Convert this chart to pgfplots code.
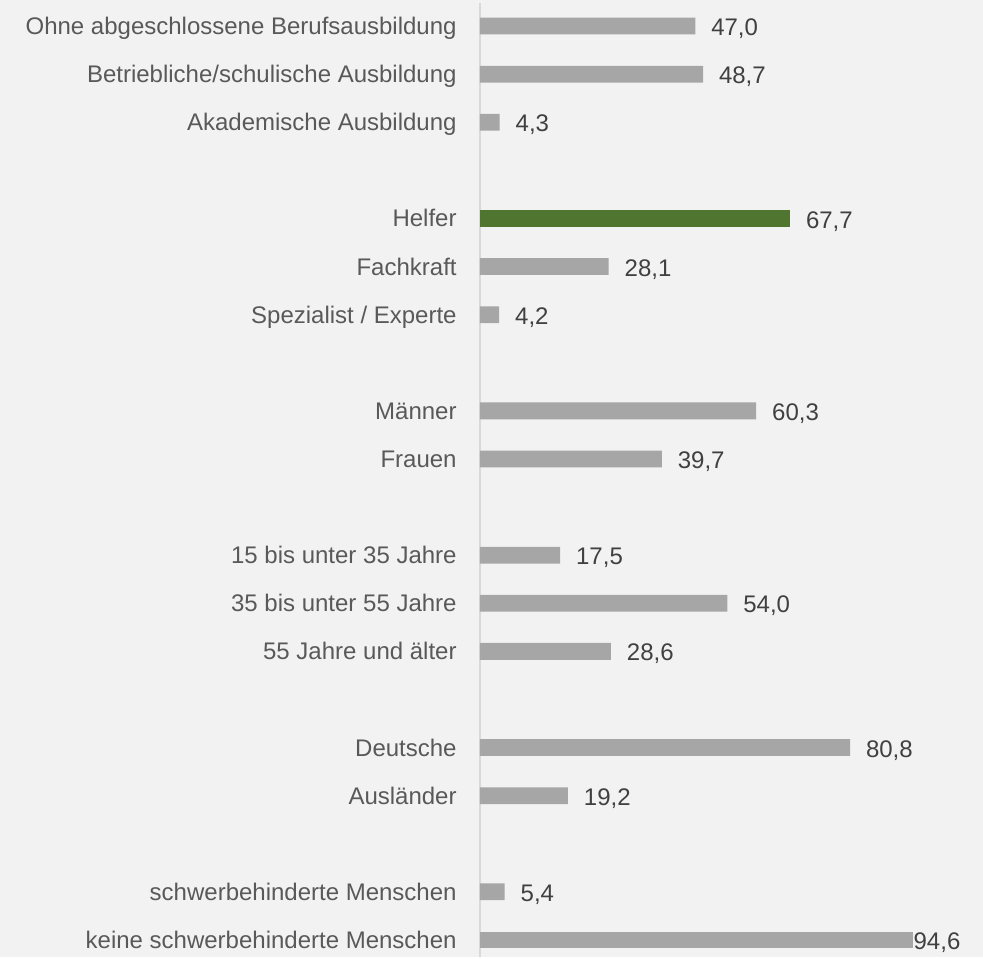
\documentclass[border=0pt]{standalone}
\usepackage{fontspec}
\setmainfont{Liberation Sans}
\usepackage{pgfplots}
\pgfplotsset{compat=1.18}
\usetikzlibrary{backgrounds}
\definecolor{bggray}{HTML}{F2F2F2}
\definecolor{lineg}{HTML}{D9D9D9}
\definecolor{barg}{HTML}{A6A6A6}
\definecolor{greenb}{RGB}{80,117,48}
\definecolor{labc}{HTML}{595959}
\definecolor{valc}{HTML}{404040}
\begin{document}
\begin{tikzpicture}[font=\fontsize{12}{14}\selectfont]
\begin{axis}[
  at={(0,0)}, anchor=south west,
  scale only axis,
  width=251.5pt, height=477pt,
  xmin=0, xmax=109.83,
  ymin=-0.48, ymax=19.355,
  y dir=reverse,
  xbar, bar width=8.4pt, bar shift=0pt,
  axis x line=none,
  axis y line=left,
  y axis line style={draw=lineg, line width=1pt, -},
  major tick length=0pt,
  ytick={0,1,2,4,5,6,8,9,11,12,13,15,16,18,19},
  yticklabels={Ohne abgeschlossene Berufsausbildung,
    Betriebliche/schulische Ausbildung,
    Akademische Ausbildung,
    Helfer, Fachkraft, Spezialist / Experte,
    Männer, Frauen,
    15 bis unter 35 Jahre, 35 bis unter 55 Jahre, 55 Jahre und älter,
    Deutsche, Ausländer,
    schwerbehinderte Menschen, keine schwerbehinderte Menschen},
  yticklabel style={color=labc, inner sep=0pt, anchor=base east,
    xshift=-11.5pt, yshift=-4.25pt},
  point meta=x,
  nodes near coords,
  /pgf/number format/.cd, fixed, fixed zerofill, precision=1, use comma, assume math mode=true,
  /pgfplots/.cd,
  clip=false,
]
\addplot[fill=barg, draw=none,
  nodes near coords style={color=valc, anchor=base west, inner sep=0pt, xshift=7.8pt, yshift=-4.8pt}]
  coordinates {(47.0,0) (48.7,1) (4.3,2) (28.1,5) (4.2,6) (60.3,8) (39.7,9)
    (17.5,11) (54.0,12) (28.6,13) (80.8,15) (19.2,16) (5.4,18)};
\addplot[fill=greenb, draw=none,
  nodes near coords style={color=valc, anchor=base west, inner sep=0pt, xshift=7.8pt, yshift=-4.8pt}]
  coordinates {(67.7,4)};
\addplot[fill=barg, draw=none,
  nodes near coords style={color=valc, anchor=base west, inner sep=0pt, yshift=-4.8pt}]
  coordinates {(94.6,19)};
\end{axis}
\begin{scope}[on background layer]
\fill[bggray] (-240pt,0pt) rectangle (251.5pt,478.5pt);
\end{scope}
\end{tikzpicture}
\end{document}
